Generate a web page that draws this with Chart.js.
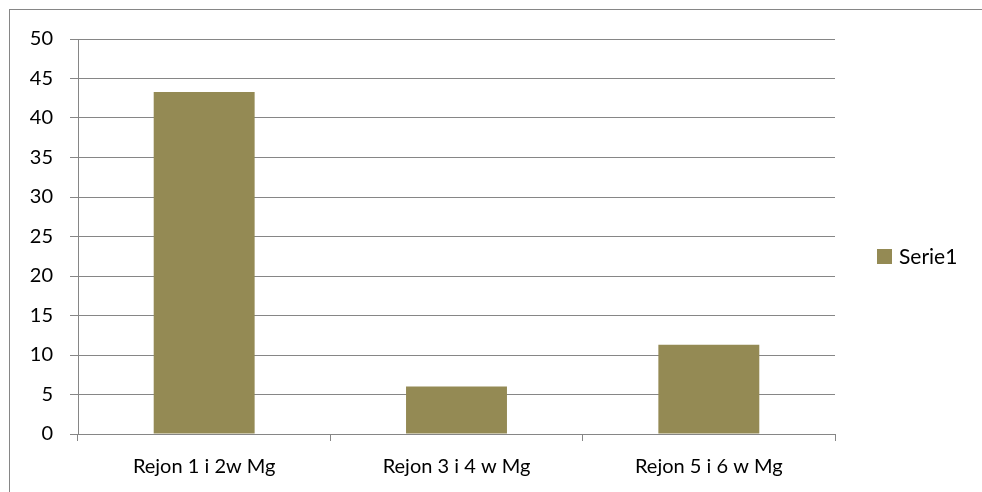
<!DOCTYPE html>
<html>
<head>
<meta charset="utf-8">
<script src="https://cdn.jsdelivr.net/npm/chart.js@4"></script>
<style>
  html, body { margin: 0; padding: 0; background: #fff; }
  #wrap { width: 982px; height: 492px; }
</style>
</head>
<body>
<div id="wrap"><canvas id="barChart" width="982" height="492"></canvas></div>
<script>
// data
var categories = ["Rejon 1 i 2w Mg", "Rejon 3 i 4 w Mg", "Rejon 5 i 6 w Mg"];
var serieValues = [43.3, 6.0, 11.3];
var serieLabel = "Serie1";
var barColor = "#948a54";
var gridColor = "#868686";
var fontFamily = "Lato, 'Open Sans', sans-serif";

// outer frame (only top/left edges show, the rest is cut off) + legend
var framePlugin = {
  id: "frame",
  afterDraw: function (chart) {
    var ctx = chart.ctx;
    ctx.save();
    ctx.strokeStyle = gridColor;
    ctx.lineWidth = 1;
    ctx.strokeRect(9.5, 9.5, 1000, 1000);

    // legend
    var ds = chart.data.datasets[0];
    ctx.fillStyle = ds.backgroundColor;
    ctx.fillRect(877, 249, 15, 15);
    ctx.fillStyle = "#000";
    ctx.font = "21px " + fontFamily;
    ctx.textBaseline = "middle";
    ctx.fillText(ds.label, 899, 257);
    ctx.restore();
  }
};

new Chart("barChart", {
  type: "bar",
  data: {
    labels: categories,
    datasets: [{
      label: serieLabel,
      data: serieValues,
      backgroundColor: barColor,
      barPercentage: 0.4,
      categoryPercentage: 1
    }]
  },
  options: {
    responsive: false,
    animation: false,
    layout: {
      padding: {left: 0, right: 147, top: 39, bottom: 0}
    },
    plugins: {
      legend: {display: false},
      tooltip: {enabled: false}
    },
    scales: {
      x: {
        offset: true,
        grid: {
          offset: true,
          drawOnChartArea: false,
          color: gridColor,
          tickLength: 7
        },
        border: {color: gridColor},
        ticks: {
          color: "#000",
          padding: 14,
          font: {family: fontFamily, size: 20}
        },
        afterFit: function (scale) { scale.height = 58; }
      },
      y: {
        min: 0,
        max: 50,
        ticks: {
          stepSize: 5,
          color: "#000",
          padding: 17,
          font: {family: fontFamily, size: 20}
        },
        grid: {
          color: gridColor,
          tickLength: 8
        },
        border: {color: gridColor},
        afterFit: function (scale) { scale.width = 78; }
      }
    }
  },
  plugins: [framePlugin]
});
</script>
</body>
</html>
